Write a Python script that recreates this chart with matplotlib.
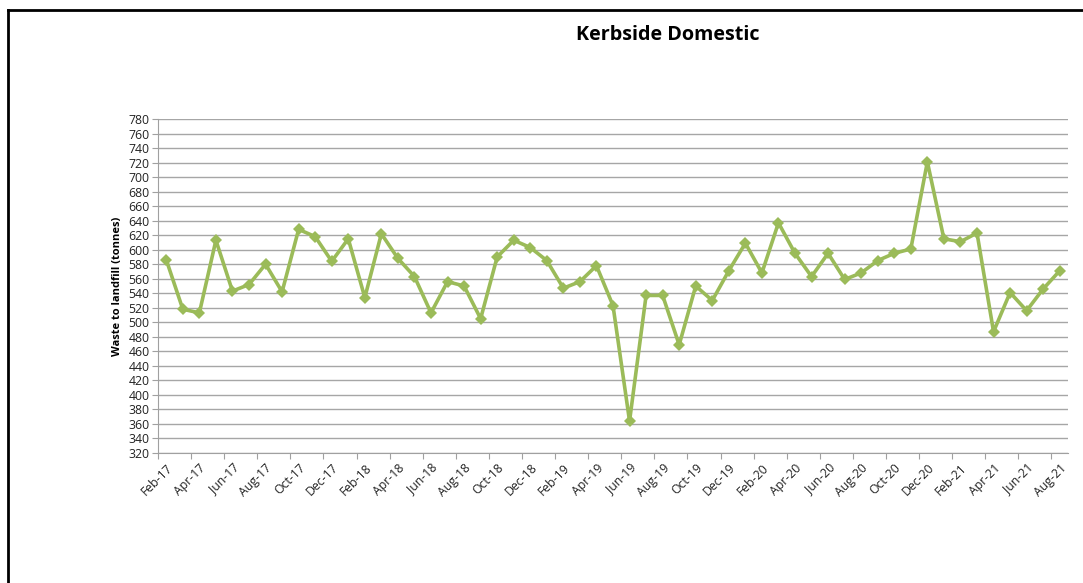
import matplotlib
matplotlib.use("Agg")
import matplotlib.pyplot as plt
from matplotlib.lines import Line2D

# monthly kerbside domestic waste to landfill, Feb-17 .. Aug-21
months = ["Feb-17", "Mar-17", "Apr-17", "May-17", "Jun-17", "Jul-17", "Aug-17", "Sep-17",
          "Oct-17", "Nov-17", "Dec-17",
          "Jan-18", "Feb-18", "Mar-18", "Apr-18", "May-18", "Jun-18", "Jul-18", "Aug-18",
          "Sep-18", "Oct-18", "Nov-18", "Dec-18",
          "Jan-19", "Feb-19", "Mar-19", "Apr-19", "May-19", "Jun-19", "Jul-19", "Aug-19",
          "Sep-19", "Oct-19", "Nov-19", "Dec-19",
          "Jan-20", "Feb-20", "Mar-20", "Apr-20", "May-20", "Jun-20", "Jul-20", "Aug-20",
          "Sep-20", "Oct-20", "Nov-20", "Dec-20",
          "Jan-21", "Feb-21", "Mar-21", "Apr-21", "May-21", "Jun-21", "Jul-21", "Aug-21"]
tonnes = [586, 518, 513, 613, 543, 552, 580, 542, 628, 618, 584,
          615, 534, 622, 588, 563, 513, 556, 550, 505, 590, 613, 603,
          585, 547, 556, 578, 523, 364, 537, 537, 469, 550, 530, 571,
          609, 568, 637, 595, 563, 595, 559, 568, 585, 595, 601, 721,
          615, 611, 623, 487, 541, 516, 546, 571]
y_ticks = list(range(320, 781, 20))

plt.rcParams["font.family"] = ["Open Sans", "DejaVu Sans"]

fig = plt.figure(figsize=(10.83, 5.83), dpi=100)
ax = fig.add_axes([158 / 1083, 1 - 453 / 583, 910 / 1083, 334 / 583])

x = list(range(len(tonnes)))
ax.plot(x, tonnes, color="#9bbb59", lw=2.6, marker="D", ms=6,
        markeredgewidth=0, zorder=3)

ax.set_xlim(-0.5, len(tonnes) - 0.5)
ax.set_ylim(320, 780)
ax.set_yticks(y_ticks)
ax.tick_params(axis="y", labelsize=8.8, length=4, color="#a0a0a0", pad=2,
               labelcolor="#222222")
ax.grid(axis="y", color="#a6a6a6", lw=1)
ax.set_axisbelow(True)

# tick marks sit on category boundaries, labels on every other month
ax.set_xticks([i - 0.5 for i in range(0, len(tonnes), 2)])
ax.set_xticklabels([])
ax.tick_params(axis="x", which="major", length=4, color="#a0a0a0")
ax.set_xticks(x[::2], minor=True)
ax.set_xticklabels(months[::2], minor=True, rotation=45, ha="right",
                   rotation_mode="anchor", fontsize=8.8, color="#222222")
ax.tick_params(axis="x", which="minor", length=0, pad=6)

for side in ["top", "right"]:
    ax.spines[side].set_visible(False)
for side in ["left", "bottom"]:
    ax.spines[side].set_color("#a0a0a0")

ax.set_ylabel("Waste to landfill (tonnes)", fontsize=8, fontweight="bold", labelpad=4)

fig.text(668 / 1083, 1 - 35 / 583, "Kerbside Domestic", ha="center", va="center",
         fontsize=14.2, fontweight="bold")

# chart frame (top and left edges only are visible in the source)
fig.add_artist(Line2D([8 / 1083, 1], [1 - 10 / 583] * 2, color="black", lw=2,
                      transform=fig.transFigure))
fig.add_artist(Line2D([8 / 1083] * 2, [0, 1 - 10 / 583], color="black", lw=2,
                      transform=fig.transFigure))

fig.savefig("out.png", dpi=100)
